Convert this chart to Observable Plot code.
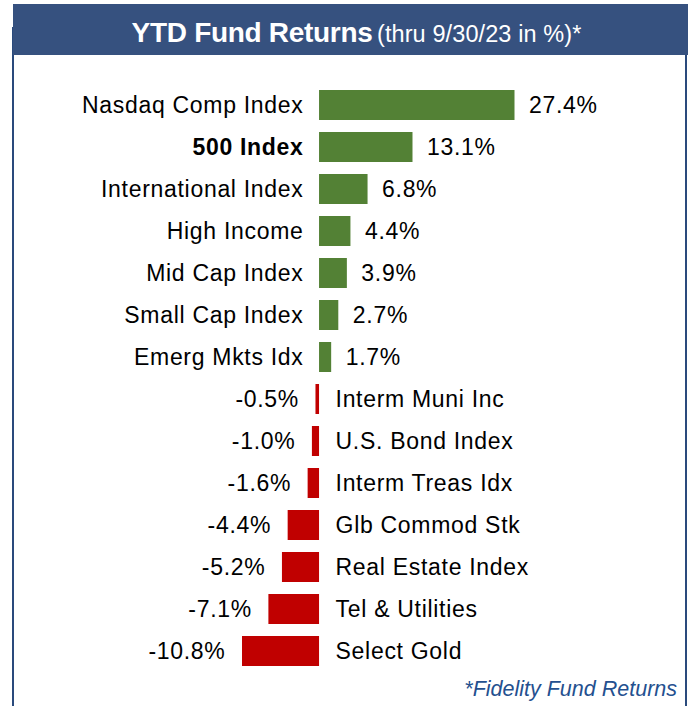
<!DOCTYPE html>
<html>
<head>
<meta charset="utf-8">
<script src="https://cdn.jsdelivr.net/npm/d3@7"></script>
<script src="https://cdn.jsdelivr.net/npm/@observablehq/plot@0.6"></script>
<style>
  html, body { margin: 0; padding: 0; background: #fff; }
  #wrap { position: relative; width: 688px; height: 706px; overflow: hidden; font-family: "Liberation Sans", Arial, sans-serif; }
  #header { position: absolute; left: 13px; top: 4px; width: 675px; height: 51px; background: #36517f; color: #fff; text-align: center; line-height: 51px; padding-top: 3px; padding-left: 12px; box-sizing: border-box; white-space: nowrap; }
  #header .t { font-weight: bold; font-size: 28px; letter-spacing: -0.3px; }
  #header .s { font-size: 23.5px; letter-spacing: 0.1px; }
  #lb { position: absolute; left: 12px; top: 27px; width: 2px; height: 679px; background: #2a4a7c; }
  #rb { position: absolute; left: 685px; top: 55px; width: 2px; height: 651px; background: #2a4a7c; }
  #foot { position: absolute; right: 11px; top: 679px; font-size: 21.5px; line-height: 21px; font-style: italic; color: #24508f; white-space: nowrap; }
  #chart { position: absolute; left: 0; top: 0; }
</style>
</head>
<body>
<div id="wrap">
  <div id="lb"></div>
  <div id="rb"></div>
  <div id="header"><span class="t">YTD Fund Returns</span> <span class="s">(thru 9/30/23 in %)*</span></div>
  <div id="chart"></div>
  <div id="foot">*Fidelity Fund Returns</div>
</div>
<script>
const funds = ["Nasdaq Comp Index", "500 Index", "International Index", "High Income", "Mid Cap Index", "Small Cap Index", "Emerg Mkts Idx", "Interm Muni Inc", "U.S. Bond Index", "Interm Treas Idx", "Glb Commod Stk", "Real Estate Index", "Tel & Utilities", "Select Gold"];
const returns = [27.4, 13.1, 6.8, 4.4, 3.9, 2.7, 1.7, -0.5, -1.0, -1.6, -4.4, -5.2, -7.1, -10.8];
const highlight = ["500 Index"];

const data = funds.map((f, i) => ({fund: f, value: returns[i]}));
const pos = data.filter(d => d.value >= 0);
const neg = data.filter(d => d.value < 0);
const fmt = v => v.toFixed(1) + "%";

const chart = Plot.plot({
  width: 688,
  height: 706,
  margin: 0,
  style: {background: "transparent", fontFamily: "'Liberation Sans', Arial, sans-serif", fontSize: "23px", letterSpacing: "0.7px", color: "#000"},
  x: {domain: [-10.8, 27.4], range: [242, 514.5], axis: null},
  y: {domain: funds, range: [84, 672], paddingInner: 0.286, paddingOuter: 0.143, axis: null},
  marks: [
    Plot.barX(data, {y: "fund", x: "value", fill: d => d.value >= 0 ? "#538135" : "#c00000"}),
    Plot.text(pos.filter(d => !highlight.includes(d.fund)), {y: "fund", x: 0, text: "fund", textAnchor: "end", dx: -16, fill: "#000", fontSize: 23}),
    Plot.text(pos.filter(d => highlight.includes(d.fund)), {y: "fund", x: 0, text: "fund", textAnchor: "end", dx: -16, fill: "#000", fontSize: 23, fontWeight: "bold"}),
    Plot.text(neg, {y: "fund", x: 0, text: "fund", textAnchor: "start", dx: 16, fill: "#000", fontSize: 23}),
    Plot.text(pos, {y: "fund", x: "value", text: d => fmt(d.value), textAnchor: "start", dx: 14, fill: "#000", fontSize: 23}),
    Plot.text(neg, {y: "fund", x: "value", text: d => fmt(d.value), textAnchor: "end", dx: -17, fill: "#000", fontSize: 23})
  ]
});
document.getElementById("chart").appendChild(chart);
</script>
</body>
</html>
